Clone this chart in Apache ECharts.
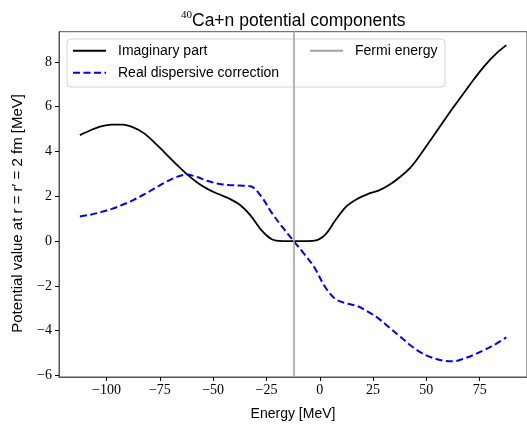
<!DOCTYPE html>
<html>
<head>
<meta charset="utf-8">
<script src="https://cdn.jsdelivr.net/npm/echarts@6/dist/echarts.min.js"></script>
<style>
  html, body { margin: 0; padding: 0; background: #fff; }
  #chart { width: 527px; height: 426px; }
</style>
</head>
<body>
<div id="chart"></div>
<script>
// Energy grid (MeV)
const energies = [
  -112.5, -107.5, -102.5, -97.5, -92.5, -87.5, -82.5, -77.5, -72.5, -67.5,
  -62.5, -57.5, -52.5, -47.5, -42.5, -37.5, -32.5, -27.5, -22.5, -17.5,
  -12.5, -7.5, -2.5, 2.5, 7.5, 12.5, 17.5, 22.5, 27.5, 32.5,
  37.5, 42.5, 47.5, 52.5, 57.5, 62.5, 67.5, 72.5, 77.5, 82.5, 87.5
];

// Imaginary part W(E) at r = r' = 2 fm (MeV)
const imaginaryPart = [
  4.73, 4.95, 5.12, 5.20, 5.20, 5.08, 4.82, 4.40, 3.93, 3.45,
  3.00, 2.62, 2.32, 2.10, 1.90, 1.62, 1.15, 0.50, 0.08, 0.00,
  0.00, 0.00, 0.02, 0.28, 0.95, 1.55, 1.88, 2.10, 2.25, 2.50,
  2.85, 3.28, 3.90, 4.58, 5.27, 5.95, 6.60, 7.25, 7.85, 8.35, 8.75
];

// Real dispersive correction ΔV(E) at r = r' = 2 fm (MeV)
const realCorrection = [
  1.10, 1.18, 1.30, 1.44, 1.62, 1.83, 2.08, 2.35, 2.62, 2.85,
  2.97, 2.86, 2.68, 2.56, 2.50, 2.48, 2.45, 2.00, 1.26, 0.62,
  0.03, -0.55, -1.18, -2.05, -2.60, -2.78, -2.90, -3.15, -3.45, -3.85,
  -4.25, -4.65, -4.98, -5.20, -5.33, -5.37, -5.25, -5.07, -4.85, -4.60, -4.30
];

// Fermi energy of 40Ca (MeV)
const fermiEnergy = -12;

// Tick positions
const xTicks = [-100, -75, -50, -25, 0, 25, 50, 75];
const yTicks = [-6, -4, -2, 0, 2, 4, 6, 8];

const pairs = (xs, ys) => xs.map((x, i) => [x, ys[i]]);
const minus = v => String(v).replace('-', '\u2212');

const SANS = '"Liberation Sans", Arial, sans-serif';
const SERIF = '"Liberation Serif", "DejaVu Serif", serif';
const AXIS = '#555';

const chart = echarts.init(document.getElementById('chart'), null, { renderer: 'canvas' });

const legendCommon = {
  orient: 'vertical',
  top: 43.7,
  padding: 0,
  itemWidth: 33, itemHeight: 14, itemGap: 8,
  z: 10,
  itemStyle: { opacity: 0 },
  textStyle: { fontFamily: SANS, fontSize: 14, color: '#000', padding: [0, 0, 0, 7] }
};

chart.setOption({
  animation: false,
  backgroundColor: '#fff',
  title: {
    left: 176,
    top: 5,
    text: '{sup|40}{t|Ca+n potential components}',
    textStyle: {
      fontWeight: 'normal',
      rich: {
        sup: { fontFamily: SERIF, fontSize: 11, fontWeight: 'normal', color: '#000', verticalAlign: 'top', lineHeight: 22 },
        t: { fontFamily: SANS, fontSize: 17.5, fontWeight: 'normal', color: '#000', lineHeight: 22 }
      }
    }
  },
  grid: {
    left: 59, right: -3, top: 31.7, bottom: 43.7,
    show: true, borderColor: AXIS, borderWidth: 1, backgroundColor: 'transparent',
    containLabel: false
  },
  xAxis: {
    type: 'value',
    min: -122.3, max: 97.2,
    name: 'Energy [MeV]',
    nameLocation: 'middle',
    nameGap: 30,
    nameTextStyle: { fontFamily: SANS, fontSize: 14, color: '#000' },
    axisLine: { show: true, onZero: false, lineStyle: { color: AXIS, width: 1 } },
    axisTick: { show: true, length: 4, customValues: xTicks, lineStyle: { color: '#000' } },
    axisLabel: {
      customValues: xTicks, formatter: minus, margin: 6,
      fontFamily: SERIF, fontSize: 14, color: '#000'
    },
    splitLine: { show: false }
  },
  yAxis: {
    type: 'value',
    min: -6.07, max: 9.35,
    name: 'Potential value at r = r\u2032 = 2 fm [MeV]',
    nameLocation: 'middle',
    nameGap: 34,
    nameRotate: 90,
    nameTextStyle: { fontFamily: SANS, fontSize: 15, color: '#000', padding: [0, 18, 0, 0] },
    axisLine: { show: true, onZero: false, lineStyle: { color: AXIS, width: 1 } },
    axisTick: { show: true, length: 4, customValues: yTicks, lineStyle: { color: '#000' } },
    axisLabel: {
      customValues: yTicks, formatter: minus, margin: 7,
      fontFamily: SERIF, fontSize: 14, color: '#000'
    },
    splitLine: { show: false }
  },
  graphic: [{
    type: 'rect',
    z: 5,
    shape: { x: 67, y: 39, width: 378, height: 48, r: 4 },
    style: { fill: 'rgba(255,255,255,0.8)', stroke: '#d4d4d4', lineWidth: 1 }
  }],
  legend: [
    Object.assign({}, legendCommon, {
      data: ['Imaginary part', 'Real dispersive correction'],
      left: 72
    }),
    Object.assign({}, legendCommon, {
      data: ['Fermi energy'],
      left: 309
    })
  ],
  series: [
    {
      name: 'Imaginary part',
      type: 'line',
      data: pairs(energies, imaginaryPart),
      smooth: 0.35,
      symbol: 'none',
      lineStyle: { color: '#000', width: 1.8 },
      itemStyle: { color: '#000' },
      z: 3
    },
    {
      name: 'Real dispersive correction',
      type: 'line',
      data: pairs(energies, realCorrection),
      smooth: 0.35,
      symbol: 'none',
      lineStyle: { color: '#0000ff', width: 2, type: [7, 3.5] },
      itemStyle: { color: '#0000ff' },
      z: 3
    },
    {
      name: 'Fermi energy',
      type: 'line',
      data: [],
      symbol: 'none',
      lineStyle: { color: '#a3a3a3', width: 1.6 },
      itemStyle: { color: '#a3a3a3' },
      markLine: {
        silent: true,
        symbol: 'none',
        label: { show: false },
        lineStyle: { color: '#a3a3a3', width: 1.6, type: 'solid' },
        data: [{ xAxis: fermiEnergy }]
      },
      z: 2
    }
  ]
});
</script>
</body>
</html>
